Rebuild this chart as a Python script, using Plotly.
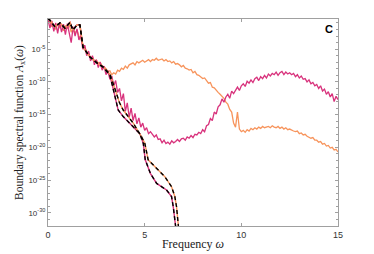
import plotly.graph_objects as go

# ---------------- data (log10 of A_x) ----------------
omega_noisy = [round(i * 0.1, 1) for i in range(151)]

orange_noisy_log = [
    -1.0, -0.8, -1.6, -1.2, -2.0, -1.1, -1.7, -1.3, -2.2, -1.4,
    -1.9, -1.2, -2.4, -1.8, -2.6, -2.1, -3.0, -3.4, -4.3, -4.6,
    -5.4, -5.6, -6.3, -6.2, -6.8, -6.7, -7.1, -7.0, -7.6, -7.7,
    -8.0, -8.4, -8.3, -8.9, -8.6, -8.8, -8.2, -8.4, -7.9, -8.1,
    -7.6, -7.9, -7.4, -7.3, -7.1, -7.4, -6.9, -7.1, -6.9, -6.7,
    -7.0, -6.8, -6.6, -6.9, -6.6, -6.7, -6.4, -6.7, -6.6, -6.5,
    -6.8, -6.6, -6.9, -6.8, -7.1, -6.9, -7.3, -7.2, -7.4, -7.7,
    -7.5, -7.9, -8.0, -8.2, -8.1, -8.6, -8.4, -8.9, -9.0, -9.2,
    -9.5, -9.4, -9.9, -10.2, -10.1, -10.8, -10.9, -11.3, -11.6, -11.9,
    -12.2, -12.5, -13.1, -13.4, -14.2, -14.6, -16.3, -16.9, -14.6, -17.2,
    -17.6, -17.4, -17.7, -17.3, -17.5, -17.1, -17.3, -17.0, -17.2, -16.9,
    -17.1, -16.8, -17.0, -16.9, -16.8, -17.0, -16.7, -16.9, -17.0, -16.8,
    -17.1, -16.9, -17.2, -17.0, -17.3, -17.2, -17.4, -17.5, -17.6, -17.5,
    -17.9, -17.8, -18.1, -18.0, -18.3, -18.4, -18.6, -18.5, -18.9, -18.9,
    -19.2, -19.1, -19.5, -19.4, -19.8, -19.7, -20.1, -20.0, -20.4, -20.3,
    -20.7,
]

magenta_noisy_log = [
    -0.5, -1.8, -0.7, -2.3, -1.0, -2.6, -0.9, -2.4, -1.2, -2.8,
    -1.1, -2.5, -4.0, -1.6, -3.0, -1.9, -3.6, -2.9, -5.0, -4.4,
    -6.0, -5.3, -6.8, -6.0, -7.4, -6.6, -7.8, -7.0, -8.2, -7.6,
    -8.9, -8.3, -9.6, -9.1, -10.6, -9.8, -11.6, -11.0, -12.9, -11.8,
    -14.5, -13.2, -15.4, -14.0, -15.9, -14.8, -16.4, -15.5, -16.9, -16.3,
    -17.4, -17.0, -17.9, -17.6, -18.0, -18.4, -18.1, -18.8, -18.7, -19.3,
    -18.9, -19.4, -19.2, -19.5, -19.0, -19.3, -19.1, -18.8, -19.1, -18.7,
    -18.6, -18.9, -18.4, -18.6, -18.2, -18.5, -18.0, -18.1, -17.7, -17.9,
    -17.3, -17.6, -16.7, -16.5, -15.6, -15.9, -14.6, -14.9, -13.8, -13.5,
    -12.6, -13.1, -12.3, -11.9, -12.5, -11.4, -11.8, -11.2, -10.8, -11.3,
    -10.6, -10.3, -10.7, -9.9, -10.2, -9.7, -10.1, -9.5, -9.3, -9.8,
    -9.2, -9.5, -9.0, -9.4, -8.8, -9.1, -8.7, -8.9, -8.5, -9.0,
    -8.6, -8.4, -8.9, -8.5, -8.8, -8.6, -8.9, -8.7, -9.2, -8.9,
    -9.4, -9.1, -9.6, -9.5, -10.0, -9.7, -10.3, -10.1, -10.6, -10.4,
    -11.0, -10.6, -11.4, -11.1, -11.9, -11.5, -12.3, -11.8, -13.0, -12.2,
    -12.7,
]

omega_exact_magenta = [0.0, 0.1, 0.36, 0.62, 0.88, 1.14, 1.29, 1.5, 1.65, 1.81, 2.17,
                       2.53, 2.84, 3.2, 3.35, 3.45, 3.55, 3.63, 3.89, 4.24, 4.75,
                       4.93, 5.03, 5.3, 5.62, 6.13, 6.39, 6.48, 6.56, 6.62]
exact_magenta_log = [-0.3, -0.6, -1.6, -1.0, -1.8, -0.9, -2.1, -1.3, -1.3, -4.7, -6.2,
                     -7.1, -7.7, -9.0, -10.8, -12.0, -13.3, -14.3, -15.3, -16.3, -17.9,
                     -19.4, -21.9, -24.0, -25.5, -26.5, -27.5, -29.1, -31.1, -32.5]

omega_exact_orange = [0.0, 0.1, 0.36, 0.62, 0.88, 1.14, 1.29, 1.5, 1.65, 1.81, 2.17,
                      2.53, 2.84, 3.2, 3.4, 3.55, 3.7, 3.89, 4.41, 4.84, 5.01,
                      5.18, 5.53, 6.05, 6.39, 6.56, 6.65, 6.73, 6.76]
exact_orange_log = [-0.3, -0.6, -1.6, -1.0, -1.8, -0.9, -2.1, -1.3, -1.3, -4.7, -6.2,
                    -7.1, -7.7, -8.8, -10.5, -12.0, -13.2, -14.3, -16.3, -18.4, -19.4,
                    -21.9, -23.0, -24.5, -26.0, -27.5, -29.1, -31.6, -32.5]

ytick_exps = [-5, -10, -15, -20, -25, -30]
xtick_vals = [0, 5, 10, 15]

ORANGE = "#F7945C"
MAGENTA = "#D8327C"

def to_lin(vals):
    return [10 ** v for v in vals]

fig = go.Figure()
fig.add_trace(go.Scatter(x=omega_noisy, y=to_lin(orange_noisy_log), mode="lines",
                         line=dict(color=ORANGE, width=1.3), showlegend=False))
fig.add_trace(go.Scatter(x=omega_noisy, y=to_lin(magenta_noisy_log), mode="lines",
                         line=dict(color=MAGENTA, width=1.3), showlegend=False))
fig.add_trace(go.Scatter(x=omega_exact_magenta, y=to_lin(exact_magenta_log), mode="lines",
                         line=dict(color=MAGENTA, width=1.4), showlegend=False))
fig.add_trace(go.Scatter(x=omega_exact_orange, y=to_lin(exact_orange_log), mode="lines",
                         line=dict(color=ORANGE, width=1.4), showlegend=False))
fig.add_trace(go.Scatter(x=omega_exact_magenta, y=to_lin(exact_magenta_log), mode="lines",
                         line=dict(color="black", width=1.4, dash="4px,3px"), showlegend=False))
fig.add_trace(go.Scatter(x=omega_exact_orange, y=to_lin(exact_orange_log), mode="lines",
                         line=dict(color="black", width=1.4, dash="4px,3px"), showlegend=False))

minor_vals = [10 ** e for e in range(-32, 1) if e % 5 != 0]

# the html page adds an 8px body margin, so the figure is 8px smaller each way
fig.update_layout(
    width=366, height=246,
    margin=dict(l=40, r=36, t=11, b=28),
    paper_bgcolor="white", plot_bgcolor="white",
    font=dict(family="Liberation Sans, Arial, sans-serif", size=8, color="#333"),
    xaxis=dict(
        range=[0, 15], tickvals=xtick_vals, ticktext=[str(v) for v in xtick_vals],
        automargin=False,
        showgrid=False, zeroline=False, showline=True, linecolor="#a0a0a0", linewidth=1,
        mirror="ticks", ticks="inside", ticklen=3, tickcolor="#a0a0a0",
        tickfont=dict(size=9, color="#333"),
        title=dict(text="Frequency <i>ω</i>", standoff=0,
                   font=dict(family="Liberation Serif, DejaVu Serif, serif", size=12, color="#222")),
    ),
    yaxis=dict(
        type="log", range=[-32, -0.4],
        automargin=False,
        tickvals=[10 ** e for e in ytick_exps],
        ticktext=["10<sup>%d</sup>" % e for e in ytick_exps],
        showgrid=False, zeroline=False, showline=True, linecolor="#a0a0a0", linewidth=1,
        mirror="ticks", ticks="inside", ticklen=3, tickcolor="#a0a0a0",
        tickfont=dict(size=8, color="#333"),
        minor=dict(tickvals=minor_vals, ticks="inside", ticklen=2, tickcolor="#a0a0a0"),
        title=dict(text="Boundary spectral function <i>A</i><sub>x</sub>(<i>ω</i>)", standoff=2,
                   font=dict(family="Liberation Serif, DejaVu Serif, serif", size=11.5, color="#222")),
    ),
    annotations=[dict(text="<b>C</b>", x=0.97, y=0.95, xref="paper", yref="paper",
                      xanchor="center", yanchor="middle", showarrow=False,
                      font=dict(family="Liberation Sans, Arial, sans-serif", size=11, color="black"))],
)

fig.write_html("out.html")
